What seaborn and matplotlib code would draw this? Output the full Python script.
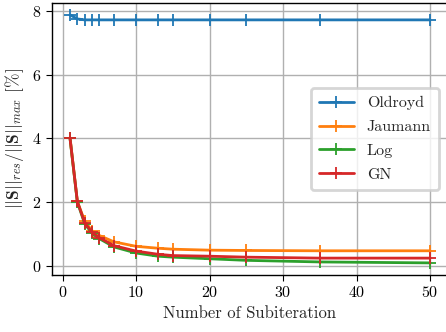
import numpy as np
import pandas as pd
import matplotlib
matplotlib.use("Agg")
import matplotlib.pyplot as plt
import seaborn as sns

subiter = [1, 2, 3, 4, 5, 7, 10, 13, 15, 20, 25, 35, 50]
oldroyd = [7.88, 7.75, 7.72, 7.72, 7.72, 7.72, 7.72, 7.72, 7.72, 7.72, 7.72, 7.72, 7.72]
jaumann = [4.02, 2.02, 1.40, 1.10, 0.95, 0.75, 0.61, 0.55, 0.52, 0.49, 0.48, 0.47, 0.47]
log_ = [4.00, 2.00, 1.32, 1.02, 0.85, 0.59, 0.40, 0.30, 0.27, 0.22, 0.17, 0.12, 0.09]
gn = [4.02, 2.02, 1.35, 1.05, 0.88, 0.63, 0.46, 0.36, 0.32, 0.30, 0.27, 0.24, 0.24]
labels = ["Oldroyd", "Jaumann", "Log", "GN"]

rows = []
for name, vals in zip(labels, [oldroyd, jaumann, log_, gn]):
    for x, y in zip(subiter, vals):
        rows.append({"x": x, "y": y, "model": name})
df = pd.DataFrame(rows)

sns.set_style("ticks")
plt.rcParams.update({
    "font.family": "serif",
    "font.serif": ["cmr10", "DejaVu Serif"],
    "mathtext.fontset": "cm",
    "axes.formatter.use_mathtext": True,
    "axes.unicode_minus": False,
    "axes.edgecolor": "black",
    "axes.linewidth": 1.0,
    "xtick.color": "black",
    "ytick.color": "black",
})

fig = plt.figure(figsize=(4.46, 3.32), dpi=100)
ax = fig.add_axes([52 / 446, (332 - 275) / 332, (448 - 52) / 446, (275 - 3) / 332])

palette = ["#1f77b4", "#ff7f0e", "#2ca02c", "#d62728"]
sns.lineplot(data=df, x="x", y="y", hue="model", hue_order=labels, palette=palette,
             marker="+", markersize=9, markeredgewidth=1.3, linewidth=2.0, ax=ax)
for line, c in zip(ax.get_lines(), palette):
    line.set_markeredgecolor(c)

ax.grid(True, color="#b0b0b0", linewidth=1.0)
ax.set_axisbelow(True)
ax.set_xticks([0, 10, 20, 30, 40, 50])
ax.set_yticks([0, 2, 4, 6, 8])
ax.set_xlim(-1.45, 52.45)
ax.set_ylim(-0.29, 8.25)
ax.tick_params(labelsize=11.5, direction="out", length=4)
ax.set_xlabel("Number of Subiteration", fontsize=12)
ax.set_ylabel(r"$||\mathbf{S}||_{res}/||\mathbf{S}||_{max}$ [%]", fontsize=12.5)

leg = ax.legend(loc="center right", bbox_to_anchor=(0.997, 0.5), fontsize=11.5,
                frameon=True, fancybox=True, framealpha=0.8, edgecolor="0.8",
                handlelength=2.2, handletextpad=0.8, borderpad=0.5, labelspacing=0.6)
leg.get_frame().set_linewidth(2.0)
for h, c in zip(leg.get_lines(), palette):
    h.set_markeredgecolor(c)

fig.savefig("out.png", dpi=100)
